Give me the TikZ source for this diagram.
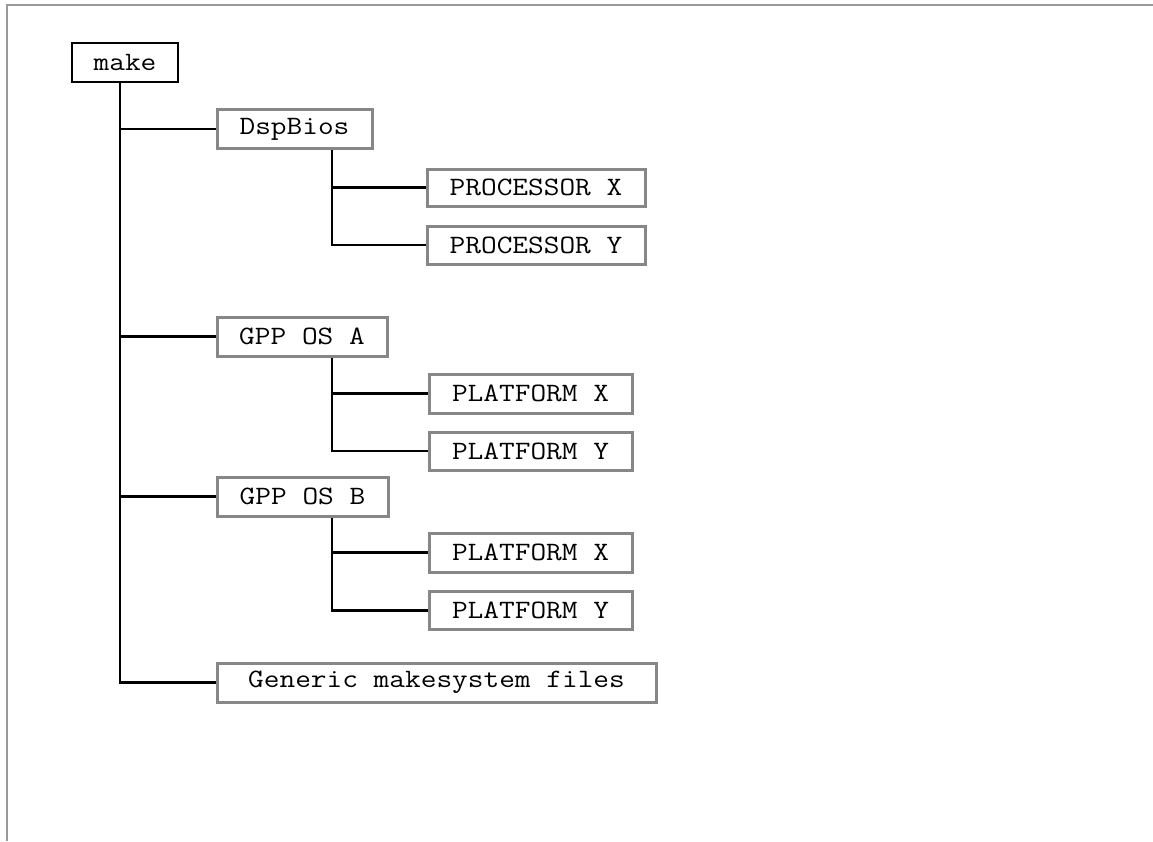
\documentclass[tikz,border=0pt]{standalone}
\usepackage{fontspec}
\newfontfamily\courfont[FakeStretch=1.15]{Latin Modern Mono}
\begin{document}
\begin{tikzpicture}[x=1pt,y=-1pt,
  box/.style={draw=black!47, line width=3pt, fill=white, inner sep=0pt, font=\courfont\fontsize{26.5}{30}\selectfont, minimum height=39pt},
  rootbox/.style={box, draw=black, line width=2.6pt},
  conn/.style={draw=black, line width=2.6pt}]
\useasboundingbox (0,0) rectangle (1153,841);
\draw[black!40, line width=2pt] (7,841) -- (7,5) -- (1153,5);
\coordinate (tx) at (120,0);
\coordinate (sx) at (332,0);
\node[rootbox, minimum width=106pt] (make) at (125,62.5) {make};
\node[box, minimum width=155pt] (dsp) at (294.5,129) {DspBios};
\node[box, minimum width=218pt, minimum height=37pt] (px) at (536,187.5) {PROCESSOR X};
\node[box, minimum width=218pt, minimum height=38pt] (py) at (536,245) {PROCESSOR Y};
\node[box, minimum width=170pt] (osa) at (302,336.5) {GPP OS A};
\node[box, minimum width=203pt] (pxa) at (530.5,393.5) {PLATFORM X};
\node[box, minimum width=203pt, minimum height=38pt] (pya) at (530.5,451) {PLATFORM Y};
\node[box, minimum width=171pt] (osb) at (302.5,496.5) {GPP OS B};
\node[box, minimum width=203pt] (pxb) at (530.5,552.5) {PLATFORM X};
\node[box, minimum width=203pt, minimum height=38pt] (pyb) at (530.5,610.5) {PLATFORM Y};
\node[box, minimum width=439pt] (gen) at (436.5,682.5) {Generic makesystem files};
% main trunk
\draw[conn] (make.south -| tx) |- (gen.west);
\draw[conn] (dsp.west -| tx) -- (dsp.west);
\draw[conn] (osa.west -| tx) -- (osa.west);
\draw[conn] (osb.west -| tx) -- (osb.west);
% sub trunks
\draw[conn] (dsp.south -| sx) |- (py.west);
\draw[conn] (px.west -| sx) -- (px.west);
\draw[conn] (osa.south -| sx) |- (pya.west);
\draw[conn] (pxa.west -| sx) -- (pxa.west);
\draw[conn] (osb.south -| sx) |- (pyb.west);
\draw[conn] (pxb.west -| sx) -- (pxb.west);
\end{tikzpicture}
\end{document}
